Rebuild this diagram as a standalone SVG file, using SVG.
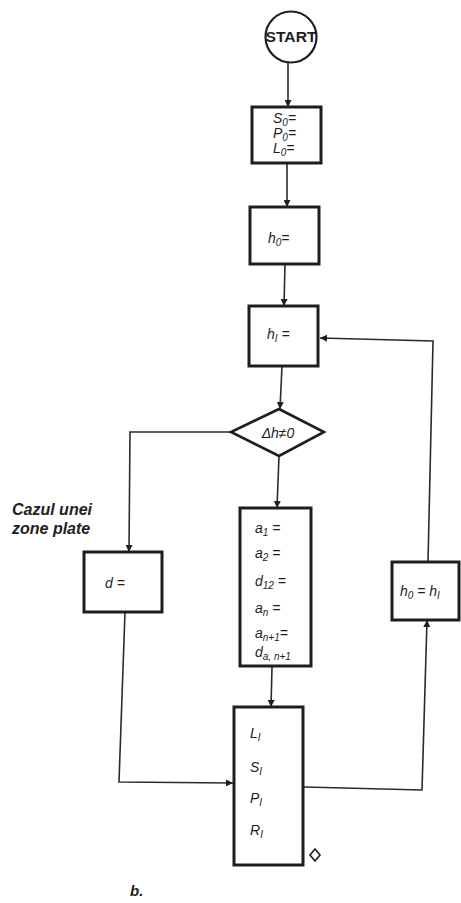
<svg xmlns="http://www.w3.org/2000/svg" width="461" height="903" viewBox="0 0 461 903">
<style>
.box{fill:none;stroke:#1e1e1e;stroke-width:3}
.ln{fill:none;stroke:#2a2a2a;stroke-width:1.6}
.t{font-family:"Liberation Sans",Arial,sans-serif;font-style:italic;font-size:14px;fill:#1e1e1e}
.s{font-size:10px}
.lbl{font-family:"Liberation Sans",Arial,sans-serif;font-style:italic;font-weight:bold;font-size:16px;fill:#222}
</style>
<defs>
<marker id="ah" viewBox="0 0 10 10" refX="10" refY="5" markerWidth="7" markerHeight="7" markerUnits="userSpaceOnUse" orient="auto">
<path d="M0,0 L10,5 L0,10 z" fill="#1e1e1e"/>
</marker>
</defs>
<rect width="461" height="903" fill="#ffffff"/>
<g id="connectors">
<path class="ln" d="M288,63 L288,107" marker-end="url(#ah)"/>
<path class="ln" d="M287,164 L287,207" marker-end="url(#ah)"/>
<path class="ln" d="M285,264 L284,306" marker-end="url(#ah)"/>
<path class="ln" d="M282,366 L280,409" marker-end="url(#ah)"/>
<path class="ln" d="M279,456 L277,508" marker-end="url(#ah)"/>
<path class="ln" d="M272,667 L271,707" marker-end="url(#ah)"/>
<path class="ln" d="M231,432 L130,432 L129,552" marker-end="url(#ah)"/>
<path class="ln" d="M125,612 L119,782 L233,783" marker-end="url(#ah)"/>
<path class="ln" d="M304,787 L422,790 L427,620" marker-end="url(#ah)"/>
<path class="ln" d="M428,562 L433,341 L320,338" marker-end="url(#ah)"/>
</g>
<g id="start">
<circle cx="291" cy="37" r="25.5" fill="#fff" stroke="#1e1e1e" stroke-width="2.2"/>
<text x="291" y="42" text-anchor="middle" font-family="Liberation Sans,Arial,sans-serif" font-weight="bold" font-size="14" fill="#1e1e1e" textLength="51" lengthAdjust="spacingAndGlyphs">START</text>
</g>
<g id="init">
<rect class="box" x="252" y="107" width="69" height="56"/>
<text class="t" x="273" y="123">S<tspan class="s" dy="3">0</tspan><tspan dy="-3">=</tspan></text>
<text class="t" x="273" y="138">P<tspan class="s" dy="3">0</tspan><tspan dy="-3">=</tspan></text>
<text class="t" x="273" y="153">L<tspan class="s" dy="3">0</tspan><tspan dy="-3">=</tspan></text>
</g>
<g id="h0">
<rect class="box" x="250" y="207" width="69" height="57"/>
<text class="t" x="268" y="243">h<tspan class="s" dy="3">0</tspan><tspan dy="-3">=</tspan></text>
</g>
<g id="hI">
<rect class="box" x="249" y="306" width="69" height="60"/>
<text class="t" x="267" y="339">h<tspan class="s" dy="3">I</tspan><tspan dy="-3"> =</tspan></text>
</g>
<g id="decision">
<polygon points="279,409 324,432 279,456 231,432" fill="#fff" stroke="#1e1e1e" stroke-width="2.6"/>
<text class="t" x="278" y="438" text-anchor="middle">Δh≠0</text>
</g>
<g id="note">
<text class="lbl" x="12" y="515">Cazul unei</text>
<text class="lbl" x="12" y="534">zone plate</text>
</g>
<g id="d">
<rect class="box" x="84" y="552" width="78" height="60"/>
<text class="t" x="105" y="588">d =</text>
</g>
<g id="coef">
<rect class="box" x="240" y="508" width="71" height="158"/>
<text class="t" x="255" y="533">a<tspan class="s" dy="3">1</tspan><tspan dy="-3"> =</tspan></text>
<text class="t" x="255" y="558">a<tspan class="s" dy="3">2</tspan><tspan dy="-3"> =</tspan></text>
<text class="t" x="255" y="586">d<tspan class="s" dy="3">12</tspan><tspan dy="-3"> =</tspan></text>
<text class="t" x="255" y="613">a<tspan class="s" dy="3">n</tspan><tspan dy="-3"> =</tspan></text>
<text class="t" x="255" y="638">a<tspan class="s" dy="3">n+1</tspan><tspan dy="-3">=</tspan></text>
<text class="t" x="255" y="657">d<tspan class="s" dy="3">a, n+1</tspan></text>
</g>
<g id="result">
<rect class="box" x="234" y="707" width="69" height="158"/>
<text class="t" x="250" y="738">L<tspan class="s" dy="3">I</tspan></text>
<text class="t" x="250" y="772">S<tspan class="s" dy="3">I</tspan></text>
<text class="t" x="250" y="803">P<tspan class="s" dy="3">I</tspan></text>
<text class="t" x="250" y="835">R<tspan class="s" dy="3">I</tspan></text>
<polygon points="315,849 320,855 315,861 310,855" fill="none" stroke="#1e1e1e" stroke-width="1.6"/>
</g>
<g id="update">
<rect class="box" x="392" y="562" width="67" height="58"/>
<text class="t" x="400" y="596" font-size="15">h<tspan class="s" dy="3">0</tspan><tspan dy="-3"> = h</tspan><tspan class="s" dy="3">I</tspan></text>
</g>
<text x="130" y="896" font-family="Liberation Sans,Arial,sans-serif" font-style="italic" font-weight="bold" font-size="15" fill="#1e1e1e">b.</text>
</svg>
